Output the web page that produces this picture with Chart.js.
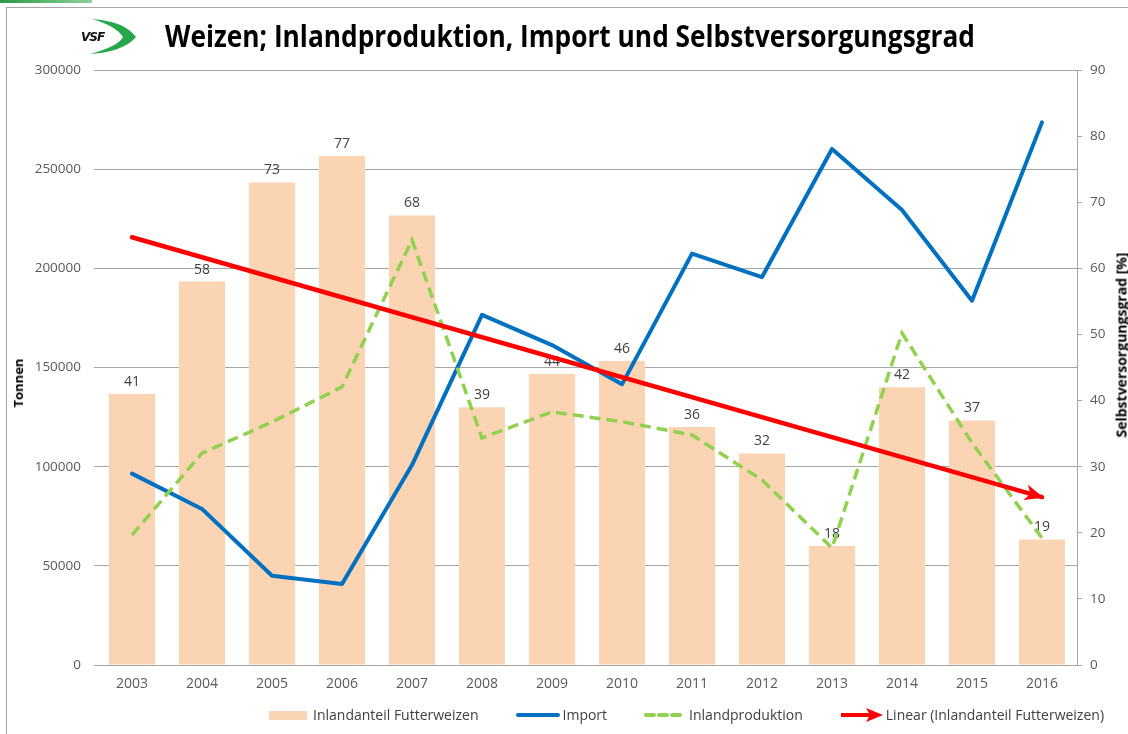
<!DOCTYPE html>
<html>
<head>
<meta charset="utf-8">
<script src="https://cdn.jsdelivr.net/npm/chart.js@4/dist/chart.umd.min.js"></script>
<style>
    html, body { margin: 0; padding: 0; background: #ffffff; }
    body { width: 1128px; height: 734px; position: relative; overflow: hidden; font-family: 'Open Sans', sans-serif; }
    #wrap { position: absolute; left: 0; top: 0; width: 1128px; height: 734px; }
    .frame-top { position: absolute; left: 6px; top: 7px; width: 1122px; height: 1px; background: #a6a6a6; }
    .frame-left { position: absolute; left: 6px; top: 7px; width: 1px; height: 727px; background: #a6a6a6; }
    .green-top { position: absolute; left: 0; top: 0; width: 92px; height: 3px; background: linear-gradient(90deg, #2a9a45, #8fd19e); }
    #title { position: absolute; left: 165px; top: 15px; font-weight: 700; font-size: 30px; color: #000; white-space: nowrap; transform-origin: 0 0; }
    #logo { position: absolute; left: 78px; top: 16px; }
    .axis-title { position: absolute; font-weight: 700; font-size: 13px; color: #000; white-space: nowrap; transform: translate(-50%, -50%) rotate(-90deg); }
    #legend { position: absolute; left: 269px; top: 705px; width: max-content; display: flex; align-items: center; font-size: 14px; color: #404040; white-space: nowrap; }
    #legend .item { display: flex; align-items: center; margin-right: 37px; white-space: nowrap; flex: none; }
    #legend svg { margin-right: 3px; flex: none; }
</style>
</head>
<body>
<div class="green-top"></div>
<div class="frame-top"></div>
<div class="frame-left"></div>
<div id="wrap"><canvas id="chart"></canvas></div>
<svg id="logo" width="62" height="40" viewBox="0 0 62 40">
    <path d="M14 3 Q46 5 58 21 Q45 36 12 38 Q41 30 45 21 Q38 10 14 3 Z" fill="#24a84a"/>
    <text x="3" y="25" font-family="DejaVu Sans" font-weight="bold" font-style="italic" font-size="12" fill="#111" letter-spacing="-1">VSF</text>
</svg>
<div id="title">Weizen; Inlandproduktion, Import und Selbstversorgungsgrad</div>
<div class="axis-title" style="left:18px; top:383px;">Tonnen</div>
<div class="axis-title" style="left:1121px; top:345px; font-size:14px;">Selbstversorgungsgrad [%]</div>
<div id="legend">
    <div class="item"><svg width="40" height="12" style="margin-right:4px"><rect x="0" y="2" width="38" height="9" fill="#fbd4b4"/></svg>Inlandanteil Futterweizen</div>
    <div class="item"><svg width="44" height="12"><line x1="2" y1="6" x2="42" y2="6" stroke="#0070c0" stroke-width="4" stroke-linecap="round"/></svg>Import</div>
    <div class="item"><svg width="42" height="12"><line x1="2" y1="6" x2="40" y2="6" stroke="#92d050" stroke-width="4" stroke-dasharray="8 5" stroke-linecap="round"/></svg>Inlandproduktion</div>
    <div class="item"><svg width="43" height="16"><line x1="1" y1="8" x2="30" y2="8" stroke="#ff0000" stroke-width="4"/><polygon points="26,1 43,8 26,15 30,8" fill="#ff0000"/></svg>Linear (Inlandanteil Futterweizen)</div>
</div>
<script>
const YEARS = ['2003', '2004', '2005', '2006', '2007', '2008', '2009', '2010', '2011', '2012', '2013', '2014', '2015', '2016'];

// Selbstversorgungsgrad / Inlandanteil Futterweizen [%] (right axis)
const INLANDANTEIL = [41, 58, 73, 77, 68, 39, 44, 46, 36, 32, 18, 42, 37, 19];

// Tonnen (left axis)
const IMPORT = [96500, 78700, 45000, 40800, 100800, 176500, 161300, 141500, 207400, 195600, 260200, 229400, 183700, 273600];
const INLANDPRODUKTION = [65500, 106800, 122500, 140200, 214300, 114500, 127600, 122700, 116000, 93300, 59000, 167400, 112000, 64000];

// Excel linear trendline end points
const TREND = [64.7, null, null, null, null, null, null, null, null, null, null, null, null, 25.4];

const LEFT_TICKS = { min: 0, max: 300000, step: 50000 };
const RIGHT_TICKS = { min: 0, max: 90, step: 10 };

const COLORS = {
    bar: '#fbd4b4',
    import: '#0070c0',
    inland: '#92d050',
    trend: '#ff0000',
    grid: '#a6a6a6',
    tick: '#595959',
    label: '#404040',
};

// squeeze the title to the width it has in the reference
(function () {
    const t = document.getElementById('title');
    const w = t.getBoundingClientRect().width;
    t.style.transform = 'scaleX(' + (810 / w) + ')';
})();

const barLabels = {
    id: 'barLabels',
    afterDatasetDraw(chart, args) {
        if (args.index !== 0) return;
        const ctx = chart.ctx;
        ctx.save();
        ctx.font = "14px 'Open Sans', sans-serif";
        ctx.fillStyle = COLORS.label;
        ctx.textAlign = 'center';
        ctx.textBaseline = 'bottom';
        args.meta.data.forEach((bar, i) => {
            ctx.fillText(String(INLANDANTEIL[i]), bar.x, bar.y - 5);
        });
        ctx.restore();
    },
};

const trendArrow = {
    id: 'trendArrow',
    afterDatasetDraw(chart, args) {
        if (args.meta.label !== 'Linear (Inlandanteil Futterweizen)') return;
        const pts = args.meta.data;
        const a = pts[0], b = pts[pts.length - 1];
        const ang = Math.atan2(b.y - a.y, b.x - a.x);
        const ctx = chart.ctx;
        ctx.save();
        ctx.translate(b.x, b.y);
        ctx.rotate(ang);
        ctx.fillStyle = COLORS.trend;
        ctx.beginPath();
        ctx.moveTo(2, 0);
        ctx.lineTo(-17, -8);
        ctx.lineTo(-12, 0);
        ctx.lineTo(-17, 8);
        ctx.closePath();
        ctx.fill();
        ctx.restore();
    },
};

new Chart(document.getElementById('chart'), {
    type: 'bar',
    data: {
        labels: YEARS,
        datasets: [
            {
                type: 'bar',
                label: 'Inlandanteil Futterweizen',
                data: INLANDANTEIL,
                backgroundColor: COLORS.bar,
                yAxisID: 'y1',
                categoryPercentage: 1,
                barPercentage: 0.66,
                order: 4,
            },
            {
                type: 'line',
                label: 'Import',
                data: IMPORT,
                borderColor: COLORS.import,
                borderWidth: 4,
                borderJoinStyle: 'round',
                borderCapStyle: 'round',
                pointRadius: 0,
                tension: 0,
                yAxisID: 'y',
                order: 2,
            },
            {
                type: 'line',
                label: 'Inlandproduktion',
                data: INLANDPRODUKTION,
                borderColor: COLORS.inland,
                borderWidth: 3.5,
                borderDash: [11, 6],
                pointRadius: 0,
                tension: 0,
                yAxisID: 'y',
                order: 1,
            },
            {
                type: 'line',
                label: 'Linear (Inlandanteil Futterweizen)',
                data: TREND,
                borderColor: COLORS.trend,
                borderWidth: 4.5,
                borderCapStyle: 'round',
                spanGaps: true,
                pointRadius: 0,
                yAxisID: 'y1',
                order: 0,
            },
        ],
    },
    options: {
        responsive: true,
        maintainAspectRatio: false,
        animation: false,
        layout: { padding: { top: 70, left: 0, right: 0, bottom: 0 } },
        plugins: {
            legend: { display: false },
            title: { display: false },
            tooltip: { enabled: false },
        },
        scales: {
            x: {
                grid: { display: false, drawTicks: false },
                border: { display: true, color: COLORS.grid, width: 1 },
                ticks: { color: COLORS.tick, font: { family: 'Open Sans', size: 14 }, padding: 11, maxRotation: 0 },
                afterFit(scale) { scale.height = 69; },
            },
            y: {
                position: 'left',
                min: LEFT_TICKS.min,
                max: LEFT_TICKS.max,
                grid: { color: COLORS.grid, lineWidth: 1, tickLength: 3 },
                border: { display: false },
                ticks: {
                    stepSize: LEFT_TICKS.step,
                    color: COLORS.tick,
                    font: { family: 'Open Sans', size: 13.5 },
                    padding: 13,
                    callback: (v) => String(v),
                },
                afterFit(scale) { scale.width = 97; },
            },
            y1: {
                position: 'right',
                min: RIGHT_TICKS.min,
                max: RIGHT_TICKS.max,
                grid: { drawOnChartArea: false, color: COLORS.grid, tickLength: 5 },
                border: { display: true, color: COLORS.grid, width: 1 },
                ticks: { stepSize: RIGHT_TICKS.step, color: COLORS.tick, font: { family: 'Open Sans', size: 13.5 }, padding: 8 },
                afterFit(scale) { scale.width = 51; },
            },
        },
    },
    plugins: [barLabels, trendArrow],
});
</script>
</body>
</html>
